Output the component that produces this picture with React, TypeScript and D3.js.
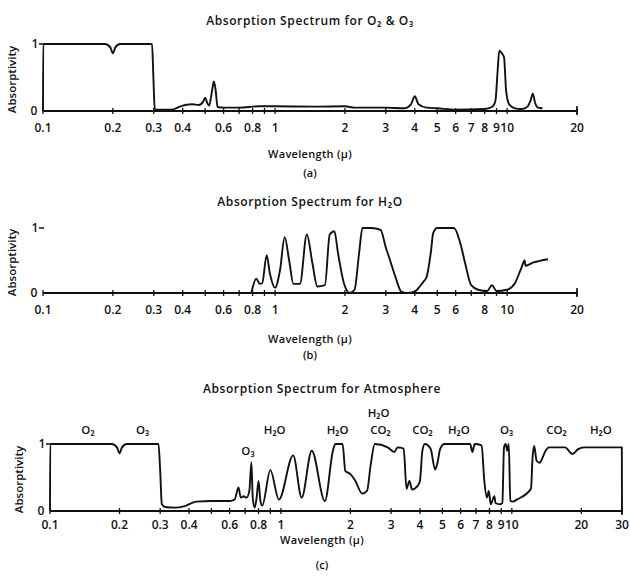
import React from 'react';
import * as d3 from 'd3';

type Pt = [number, number];

// Panel (a): O2 & O3 absorptivity vs wavelength (μ)
const o2o3Data: Pt[] = [
  [0.1, 0], [0.1002, 1], [0.185, 1], [0.195, 0.95], [0.2, 0.86], [0.205, 0.95], [0.215, 1],
  [0.295, 1], [0.299, 0.5], [0.303, 0.03], [0.31, 0.02], [0.36, 0.02], [0.38, 0.05], [0.41, 0.09],
  [0.44, 0.1], [0.47, 0.09], [0.49, 0.14], [0.5, 0.2], [0.51, 0.12], [0.52, 0.08], [0.535, 0.3],
  [0.545, 0.44], [0.555, 0.3], [0.565, 0.06], [0.6, 0.05], [0.7, 0.05], [0.85, 0.07], [1.0, 0.07],
  [1.5, 0.065], [2.0, 0.07], [2.2, 0.05], [3.0, 0.05], [3.6, 0.04], [3.85, 0.1], [4.0, 0.22],
  [4.15, 0.1], [4.5, 0.05], [5, 0.04], [6, 0.02], [8, 0.03], [8.6, 0.06], [8.9, 0.15], [9.1, 0.6],
  [9.25, 0.9], [9.5, 0.86], [9.7, 0.8], [9.9, 0.3], [10.2, 0.1], [10.8, 0.04], [11.5, 0.03],
  [12.2, 0.06], [12.6, 0.15], [12.9, 0.26], [13.2, 0.12], [13.6, 0.05], [14.2, 0.04],
];

// Panel (b): H2O
const h2oData: Pt[] = [
  [0.79, 0], [0.83, 0.22], [0.86, 0.14], [0.88, 0.15], [0.92, 0.58], [0.95, 0.3], [1.0, 0.08],
  [1.05, 0.35], [1.1, 0.86], [1.15, 0.5], [1.2, 0.14], [1.28, 0.14], [1.37, 0.9], [1.45, 0.45],
  [1.52, 0.1], [1.64, 0.12], [1.72, 0.9], [1.8, 0.95], [1.87, 0.6], [1.98, 0.15], [2.1, 0.0],
  [2.2, 0.05], [2.3, 0.6], [2.38, 1.0], [2.6, 1.0], [2.85, 0.97], [3.0, 0.7], [3.1, 0.55],
  [3.3, 0.25], [3.5, 0.02], [3.7, 0], [4.0, 0.02], [4.2, 0.1], [4.35, 0.17], [4.5, 0.25],
  [4.7, 0.65], [4.8, 0.92], [5.0, 1.0], [5.9, 1.0], [6.3, 0.75], [6.6, 0.45], [7.0, 0.12],
  [7.5, 0.05], [8.2, 0.03], [8.6, 0.12], [9.0, 0.03], [10.0, 0.05], [10.8, 0.15], [11.5, 0.38],
  [11.9, 0.5], [12.0, 0.42], [13, 0.47], [15, 0.52],
];

// Panel (c): whole atmosphere
const atmData: Pt[] = [
  [0.1, 0], [0.1002, 1], [0.185, 1], [0.195, 0.95], [0.2, 0.86], [0.205, 0.95], [0.215, 1],
  [0.295, 1], [0.3, 0.6], [0.305, 0.1], [0.315, 0.06], [0.35, 0.05], [0.38, 0.07], [0.43, 0.14],
  [0.5, 0.15], [0.6, 0.15], [0.63, 0.17], [0.655, 0.35], [0.67, 0.2], [0.69, 0.22], [0.71, 0.2],
  [0.73, 0.3], [0.745, 0.73], [0.755, 0.2], [0.77, 0.05], [0.785, 0.2], [0.8, 0.45], [0.815, 0.15],
  [0.83, 0.08], [0.9, 0.61], [0.98, 0.17], [1.13, 0.83], [1.23, 0.2], [1.36, 0.9], [1.55, 0.15],
  [1.68, 0.9], [1.72, 1.0], [1.85, 1.0], [1.9, 0.6], [2.0, 0.55], [2.1, 0.45], [2.25, 0.26],
  [2.36, 0.3], [2.45, 0.7], [2.55, 1.0], [2.9, 0.95], [3.1, 0.88], [3.2, 0.95], [3.4, 0.93],
  [3.5, 0.33], [3.6, 0.45], [3.7, 0.32], [3.9, 0.37], [4.0, 0.45], [4.1, 0.9], [4.2, 1.0],
  [4.45, 0.93], [4.65, 0.62], [4.75, 0.7], [4.9, 0.93], [5.1, 1.0], [6.6, 1.0], [6.75, 0.88],
  [6.9, 1.0], [7.4, 0.98], [7.6, 0.45], [7.8, 0.2], [7.95, 0.3], [8.1, 0.1], [8.4, 0.22],
  [8.5, 0.12], [8.9, 0.1], [9.1, 0.12], [9.25, 0.95], [9.4, 1.0], [9.55, 0.9], [9.7, 1.0],
  [9.85, 0.15], [10.1, 0.14], [10.5, 0.17], [12.1, 0.33], [12.3, 0.8], [12.5, 0.97], [12.8, 0.75],
  [13.2, 0.72], [13.6, 0.8], [14.0, 0.9], [14.5, 0.95], [17, 0.95], [18.3, 0.85], [19.3, 0.92],
  [20.6, 0.95], [29.95, 0.95], [30, 0],
];

const tickValuesAB = [0.1, 0.2, 0.3, 0.4, 0.5, 0.6, 0.7, 0.8, 0.9, 1, 2, 3, 4, 5, 6, 7, 8, 9, 10, 20];
const tickValuesC = [...tickValuesAB, 30];
const tickLabelsA = [0.1, 0.2, 0.3, 0.4, 0.6, 0.8, 1, 2, 3, 4, 5, 6, 7, 8, 9, 10, 20];
const tickLabelsB = [0.1, 0.2, 0.3, 0.4, 0.6, 0.8, 1, 2, 3, 4, 5, 6, 8, 10, 20];
const tickLabelsC = [0.1, 0.2, 0.3, 0.4, 0.6, 0.8, 1, 2, 3, 4, 5, 6, 7, 8, 9, 10, 20, 30];

const titles = ['Absorption Spectrum for O₂ & O₃', 'Absorption Spectrum for H₂O', 'Absorption Spectrum for Atmosphere'];
const partLabels = ['(a)', '(b)', '(c)'];

// species labels for panel (c): row 0 = main, -1 = above, 1 = below
const speciesText = ['O₂', 'O₃', 'O₃', 'H₂O', 'H₂O', 'H₂O', 'CO₂', 'CO₂', 'H₂O', 'O₃', 'CO₂', 'H₂O'];
const speciesWave = [0.146, 0.252, 0.72, 0.94, 1.76, 2.65, 2.7, 4.1, 5.9, 9.5, 15.6, 24.3];
const speciesRow = [0, 0, 1, 0, 0, -1, 0, 0, 0, 0, 0, 0];

const FONT = "'Open Sans', 'DejaVu Sans', sans-serif";
const INK = '#111';

interface PanelProps {
  data: Pt[];
  maxW: number;
  left: number;
  right: number;
  y1: number;
  y0: number;
  ticks: number[];
  labels: number[];
  titleY: number;
  title: string;
  xlabelY: number;
  tickLabelY: number;
  part: string;
  partY: number;
  centerX: number;
  children?: (x: d3.ScaleLogarithmic<number, number>, y: d3.ScaleLinear<number, number>) => React.ReactNode;
}

function Panel(p: PanelProps) {
  const x = d3.scaleLog().domain([0.1, p.maxW]).range([p.left, p.right]);
  const y = d3.scaleLinear().domain([0, 1]).range([p.y0, p.y1]);
  const line = d3.line<Pt>().x(d => x(d[0])).y(d => y(d[1])).curve(d3.curveMonotoneX);
  return (
    <g fontFamily={FONT} fontWeight={600} fill={INK}>
      <text x={p.centerX} y={p.titleY} textAnchor="middle" fontSize={12} letterSpacing={0.6}>{p.title}</text>
      <line x1={p.left} x2={p.right} y1={p.y0} y2={p.y0} stroke={INK} strokeWidth={1.8} />
      {p.ticks.map((t, i) => (
        <line key={i} x1={x(t)} x2={x(t)} y1={p.y0 - 3} y2={p.y0 + 3} stroke={INK} strokeWidth={1.3} />
      ))}
      <line x1={p.right} x2={p.right} y1={p.y0 - 5} y2={p.y0 + 4} stroke={INK} strokeWidth={1.6} />
      {p.labels.map((t, i) => (
        <text key={i} x={x(t)} y={p.tickLabelY} textAnchor="middle" fontSize={12}>{String(t)}</text>
      ))}
      <line x1={p.left - 4} x2={p.left + 1} y1={y(1)} y2={y(1)} stroke={INK} strokeWidth={1.5} />
      <text x={p.left - 8} y={y(1) + 4} textAnchor="middle" fontSize={12}>1</text>
      <text x={p.left - 9} y={y(0) + 4} textAnchor="middle" fontSize={12}>0</text>
      <text transform={`translate(${p.left - 27},${(y(0) + y(1)) / 2 + 2}) rotate(-90)`} textAnchor="middle" fontSize={11.5}>Absorptivity</text>
      <path d={line(p.data) || ''} fill="none" stroke={INK} strokeWidth={1.9} strokeLinejoin="round" />
      {p.children ? p.children(x, y) : null}
      <text x={p.centerX} y={p.xlabelY} textAnchor="middle" fontSize={11} letterSpacing={0.3}>Wavelength (μ)</text>
      <text x={p.centerX} y={p.partY} textAnchor="middle" fontSize={11}>{p.part}</text>
    </g>
  );
}

export default function App() {
  return (
    <svg width={630} height={581} style={{ position: 'absolute', left: 0, top: 0, background: '#fff' }}>
      <rect width={630} height={581} fill="#fff" />
      <Panel data={o2o3Data} maxW={20} left={43} right={577} y1={44} y0={111}
        ticks={tickValuesAB} labels={tickLabelsA} titleY={25} title={titles[0]}
        tickLabelY={132} xlabelY={158} part={partLabels[0]} partY={177} centerX={310} />
      <Panel data={h2oData} maxW={20} left={43} right={577} y1={228} y0={293}
        ticks={tickValuesAB} labels={tickLabelsB} titleY={206} title={titles[1]}
        tickLabelY={314} xlabelY={343} part={partLabels[1]} partY={359} centerX={310} />
      <Panel data={atmData} maxW={30} left={50} right={622} y1={444} y0={511}
        ticks={tickValuesC} labels={tickLabelsC} titleY={393} title={titles[2]}
        tickLabelY={529} xlabelY={544} part={partLabels[2]} partY={569} centerX={322}>
        {(x, y) => speciesText.map((s, i) => (
          <text key={i} x={x(speciesWave[i])} y={speciesRow[i] === 0 ? 434 : speciesRow[i] < 0 ? 417 : 455}
            textAnchor="middle" fontSize={11.5}>{s}</text>
        ))}
      </Panel>
    </svg>
  );
}
